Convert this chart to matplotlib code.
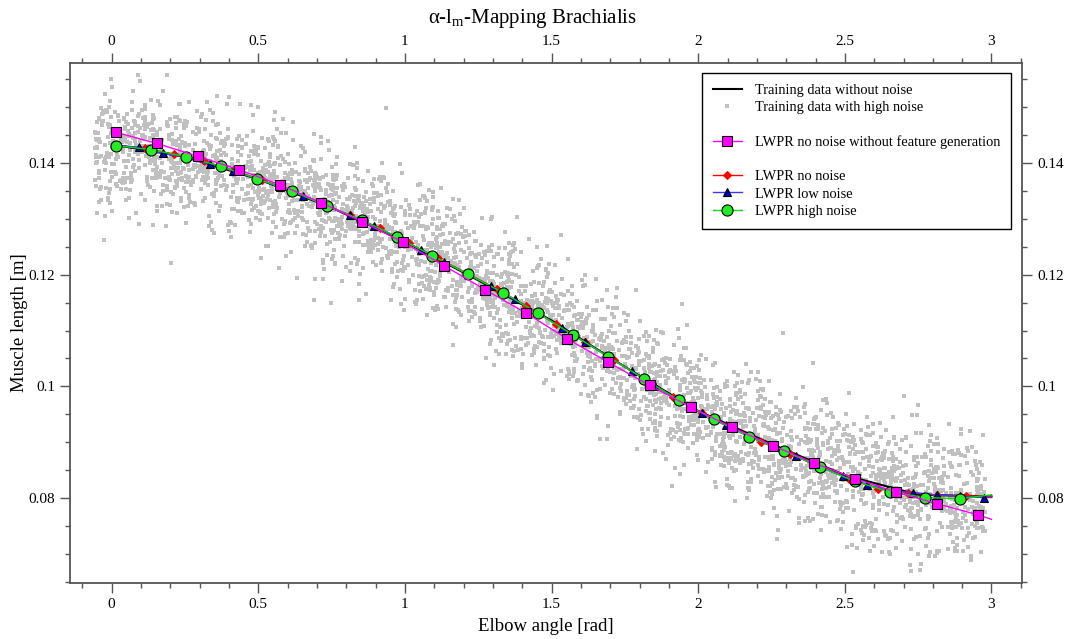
import numpy as np
import matplotlib

matplotlib.use("Agg")
import matplotlib.pyplot as plt
from matplotlib.lines import Line2D
from matplotlib.ticker import MultipleLocator, FuncFormatter

# noise-free training data (black line)
true_x = [0.014, 0.25, 0.5, 0.75, 1.0, 1.25, 1.5, 1.75, 2.0, 2.25, 2.5, 2.75, 3.0]
true_y = [0.1432, 0.1411, 0.1371, 0.1320, 0.1259, 0.1190, 0.1118, 0.1035,
          0.0956, 0.0897, 0.0841, 0.0806, 0.0803]

# LWPR no noise without feature generation (magenta squares)
mag_x = [0.014, 0.154, 0.294, 0.434, 0.574, 0.714, 0.854, 0.994, 1.134, 1.274,
         1.414, 1.554, 1.694, 1.834, 1.974, 2.114, 2.254, 2.394, 2.534, 2.674,
         2.814, 2.954, 3.0]
mag_y = [0.1455, 0.1435, 0.1412, 0.1388, 0.1361, 0.1329, 0.1295, 0.1258, 0.1216,
         0.1173, 0.1131, 0.1085, 0.1043, 0.1002, 0.0963, 0.0927, 0.0894, 0.0863,
         0.0835, 0.0811, 0.0790, 0.0770, 0.0762]

# LWPR no noise (red diamonds)
red_x = [0.014, 0.114, 0.214, 0.314, 0.414, 0.514, 0.614, 0.714, 0.814, 0.914,
         1.014, 1.114, 1.214, 1.314, 1.414, 1.514, 1.614, 1.714, 1.814, 1.914,
         2.014, 2.114, 2.214, 2.314, 2.414, 2.514, 2.614, 2.714, 2.814, 2.914, 3.0]
red_y = [0.1432, 0.1426, 0.1416, 0.1403, 0.1387, 0.1369, 0.1350, 0.1328, 0.1306,
         0.1283, 0.1256, 0.1229, 0.1202, 0.1174, 0.1144, 0.1112, 0.1079, 0.1047,
         0.1014, 0.0981, 0.0952, 0.0925, 0.0901, 0.0879, 0.0856, 0.0835, 0.0817,
         0.0810, 0.0805, 0.0804, 0.0803]

# LWPR low noise (blue triangles)
blue_x = [0.014, 0.094, 0.174, 0.254, 0.334, 0.414, 0.494, 0.574, 0.654, 0.734,
          0.814, 0.894, 0.974, 1.054, 1.134, 1.214, 1.294, 1.374, 1.454, 1.534,
          1.614, 1.694, 1.774, 1.854, 1.934, 2.014, 2.094, 2.174, 2.254, 2.334,
          2.414, 2.494, 2.574, 2.654, 2.734, 2.814, 2.894, 2.974, 3.0]
blue_y = [0.1432, 0.1428, 0.1417, 0.1411, 0.1398, 0.1386, 0.1372, 0.1357, 0.1341,
          0.1323, 0.1306, 0.1288, 0.1267, 0.1245, 0.1223, 0.1201, 0.1179, 0.1156,
          0.1131, 0.1105, 0.1079, 0.1053, 0.1027, 0.1001, 0.0975, 0.0952, 0.0930,
          0.0910, 0.0893, 0.0875, 0.0856, 0.0839, 0.0824, 0.0813, 0.0810, 0.0806,
          0.0803, 0.0801, 0.0801]

# LWPR high noise (green circles)
green_x = [0.014, 0.134, 0.254, 0.374, 0.494, 0.614, 0.734, 0.854, 0.974, 1.094,
           1.214, 1.334, 1.454, 1.574, 1.694, 1.814, 1.934, 2.054, 2.174, 2.294,
           2.414, 2.534, 2.654, 2.774, 2.894, 3.0]
green_y = [0.1431, 0.1424, 0.1411, 0.1394, 0.1372, 0.1350, 0.1323, 0.1298, 0.1267,
           0.1234, 0.1201, 0.1168, 0.1131, 0.1092, 0.1053, 0.1014, 0.0975, 0.0941,
           0.0910, 0.0884, 0.0856, 0.0830, 0.0811, 0.0801, 0.0799, 0.0806]

# noisy training cloud: angle range and spread
NOISE_N = 3500
NOISE_XRANGE = (-0.06, 2.98)
NOISE_SD = 0.0055

plt.rcParams.update({
    "font.family": "Liberation Serif",
    "mathtext.fontset": "custom",
    "mathtext.rm": "Liberation Serif",
    "mathtext.it": "Liberation Serif:italic",
})

rng = np.random.default_rng(7)
nx = rng.uniform(*NOISE_XRANGE, NOISE_N)
ny = np.interp(nx, true_x, true_y) + rng.normal(0, NOISE_SD, NOISE_N)

fig = plt.figure(figsize=(10.66, 6.39), dpi=100)
ax = fig.add_axes([70 / 1066, 56 / 639, 952 / 1066, 520 / 639])

ax.plot(nx, ny, ls="none", marker="s", ms=2.2, mew=0, color="#c0c0c0", zorder=1)
ax.plot(true_x, true_y, color="black", lw=1.5, zorder=2)


def series(x, y, color, marker, ms, face, edge, lw=1.0):
    idx = list(range(len(x) - 1))
    return ax.plot(x, y, color=color, lw=lw, marker=marker, ms=ms,
                   markerfacecolor=face, markeredgecolor=edge, mew=0.8,
                   markevery=idx, zorder=3)[0]


h_red = series(red_x, red_y, "#ff0000", "D", 4, "#ff0000", "#ff0000")
h_blue = series(blue_x, blue_y, "#3a3aff", "^", 6, "#0000c0", "black")
h_green = series(green_x, green_y, "#00dd00", "o", 8, "#22ee22", "black")
h_mag = series(mag_x, mag_y, "#ff00ff", "s", 7, "#ff00ff", "black")

ax.set_xlim(-0.142, 3.104)
ax.set_ylim(0.0648, 0.1579)
ax.xaxis.set_major_locator(MultipleLocator(0.5))
ax.xaxis.set_minor_locator(MultipleLocator(0.1))
ax.yaxis.set_major_locator(MultipleLocator(0.02))
ax.yaxis.set_minor_locator(MultipleLocator(0.005))
fmt = FuncFormatter(lambda v, p: f"{v:g}")
ax.xaxis.set_major_formatter(fmt)
ax.yaxis.set_major_formatter(fmt)

ax.tick_params(which="both", direction="out", top=True, right=True,
               labeltop=True, labelright=True, color="#555555",
               labelsize=11, width=1, pad=3.6)
ax.tick_params(which="major", length=7.2)
ax.tick_params(which="minor", length=3.8)
for s in ax.spines.values():
    s.set_color("#555555")
    s.set_linewidth(1.3)

ax.set_xlabel("Elbow angle [rad]", fontsize=13.5)
ax.xaxis.set_label_coords(0.5, -0.068)
ax.set_ylabel("Muscle length [m]", fontsize=13.5)
ax.yaxis.set_label_coords(-0.044, 0.5)
fig.text(0.5, 1 - 18 / 639, r"α-l$_{\rm m}$-Mapping Brachialis",
         ha="center", va="center", fontsize=15)

blank = Line2D([], [], ls="none")
h_true = Line2D([], [], color="black", lw=1.5)
h_noise = Line2D([], [], ls="none", marker="s", ms=2.2, mew=0, color="#c0c0c0")
handles = [h_true, h_noise, blank, h_mag, blank, h_red, h_blue, h_green]
labels = ["Training data without noise", "Training data with high noise", " ",
          "LWPR no noise without feature generation", " ",
          "LWPR no noise", "LWPR low noise", "LWPR high noise"]
leg = ax.legend(handles, labels, loc="upper right",
                bbox_to_anchor=(0.9884, 0.9808), borderaxespad=0,
                fontsize=10.4, fancybox=False, framealpha=1, edgecolor="black",
                handlelength=2.0, handletextpad=0.9, labelspacing=0.28,
                borderpad=0.75, markerscale=1.0)
leg.get_frame().set_linewidth(1.0)
leg.set_zorder(5)

fig.savefig("out.png", dpi=100)
